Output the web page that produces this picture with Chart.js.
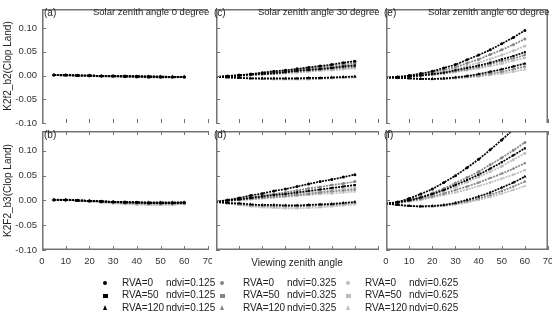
<!DOCTYPE html>
<html><head><meta charset="utf-8">
<script src="https://cdn.jsdelivr.net/npm/chart.js@4/dist/chart.umd.min.js"></script>
<style>
body{margin:0;width:559px;height:314px;background:#fff;position:relative;overflow:hidden;font-family:"Liberation Sans",Arial,sans-serif;color:#222}
.p{position:absolute}
.t{position:absolute;white-space:nowrap;line-height:1;color:#222}
.mk{position:absolute;display:block}
</style></head><body>
<script>
// ---------- data ----------
const vzaAB = [5,10,15,20,25,30,35,40,45,50,55,60];
const vzaCF = [0,5,10,15,20,25,30,35,40,45,50,55,60];
const xTickVals = [0,10,20,30,40,50,60,70];
const yTickVals = [-0.10,-0.05,0.00,0.05,0.10];

// panel (a) SZA 0, b2
const A_R0_N125   = [0.001,0.001,0.000,0.000,-0.001,-0.001,-0.002,-0.002,-0.003,-0.003,-0.003,-0.003];
const A_R50_N125  = [0.001,0.001,0.000,0.000,-0.001,-0.001,-0.002,-0.002,-0.002,-0.003,-0.003,-0.003];
const A_R120_N125 = [0.001,0.001,0.000,0.000,-0.001,-0.001,-0.001,-0.002,-0.002,-0.002,-0.003,-0.003];
const A_R0_N325   = [0.001,0.000,0.000,-0.001,-0.001,-0.002,-0.002,-0.003,-0.003,-0.003,-0.003,-0.003];
const A_R50_N325  = [0.001,0.000,0.000,-0.001,-0.001,-0.002,-0.002,-0.003,-0.003,-0.004,-0.003,-0.003];
const A_R120_N325 = [0.001,0.000,0.000,-0.001,-0.001,-0.002,-0.002,-0.002,-0.003,-0.003,-0.003,-0.003];
const A_R0_N625   = [0.001,0.000,0.000,-0.001,-0.002,-0.002,-0.003,-0.003,-0.004,-0.004,-0.004,-0.003];
const A_R50_N625  = [0.001,0.000,-0.001,-0.001,-0.002,-0.003,-0.003,-0.004,-0.004,-0.004,-0.004,-0.004];
const A_R120_N625 = [0.001,0.000,-0.001,-0.001,-0.002,-0.002,-0.003,-0.003,-0.004,-0.004,-0.004,-0.003];

// panel (b) SZA 0, b3
const B_R0_N125   = [0.001,0.001,0.000,-0.001,-0.002,-0.003,-0.004,-0.004,-0.005,-0.005,-0.005,-0.004];
const B_R50_N125  = [0.001,0.001,0.000,-0.001,-0.002,-0.003,-0.004,-0.004,-0.005,-0.005,-0.005,-0.005];
const B_R120_N125 = [0.001,0.001,0.000,-0.001,-0.002,-0.003,-0.003,-0.004,-0.004,-0.004,-0.004,-0.004];
const B_R0_N325   = [0.001,0.001,0.000,-0.001,-0.002,-0.003,-0.004,-0.005,-0.006,-0.006,-0.006,-0.005];
const B_R50_N325  = [0.001,0.001,0.000,-0.001,-0.002,-0.004,-0.005,-0.005,-0.006,-0.006,-0.006,-0.006];
const B_R120_N325 = [0.001,0.001,0.000,-0.001,-0.002,-0.003,-0.004,-0.005,-0.005,-0.005,-0.005,-0.005];
const B_R0_N625   = [0.002,0.001,0.000,-0.002,-0.004,-0.005,-0.007,-0.008,-0.008,-0.008,-0.008,-0.007];
const B_R50_N625  = [0.002,0.001,-0.001,-0.002,-0.004,-0.006,-0.007,-0.008,-0.009,-0.009,-0.008,-0.007];
const B_R120_N625 = [0.002,0.001,0.000,-0.002,-0.003,-0.005,-0.006,-0.007,-0.008,-0.008,-0.008,-0.007];

// panel (c) SZA 30, b2
const C_R0_N125   = [-0.003,-0.001,0.001,0.003,0.006,0.009,0.011,0.014,0.017,0.020,0.023,0.027,0.030];
const C_R50_N125  = [-0.003,-0.002,0.000,0.002,0.003,0.005,0.007,0.010,0.012,0.014,0.016,0.019,0.021];
const C_R120_N125 = [-0.003,-0.004,-0.005,-0.006,-0.006,-0.006,-0.006,-0.006,-0.005,-0.005,-0.004,-0.003,-0.002];
const C_R0_N325   = [-0.003,-0.002,0.000,0.002,0.005,0.007,0.010,0.012,0.015,0.018,0.020,0.023,0.026];
const C_R50_N325  = [-0.003,-0.002,-0.001,0.001,0.003,0.004,0.006,0.008,0.010,0.012,0.014,0.016,0.018];
const C_R120_N325 = [-0.003,-0.004,-0.005,-0.006,-0.007,-0.007,-0.007,-0.007,-0.007,-0.006,-0.005,-0.004,-0.003];
const C_R0_N625   = [-0.003,-0.002,0.000,0.002,0.004,0.006,0.008,0.011,0.013,0.015,0.018,0.020,0.023];
const C_R50_N625  = [-0.003,-0.002,-0.001,0.000,0.002,0.003,0.005,0.006,0.008,0.010,0.011,0.013,0.015];
const C_R120_N625 = [-0.003,-0.004,-0.005,-0.006,-0.007,-0.008,-0.008,-0.008,-0.008,-0.007,-0.006,-0.005,-0.004];

// panel (d) SZA 30, b3
const D_R0_N125   = [-0.003,0.001,0.005,0.010,0.014,0.019,0.023,0.028,0.033,0.038,0.042,0.047,0.052];
const D_R50_N125  = [-0.003,0.000,0.002,0.005,0.008,0.011,0.013,0.016,0.019,0.022,0.025,0.028,0.031];
const D_R120_N125 = [-0.003,-0.005,-0.006,-0.008,-0.009,-0.009,-0.010,-0.010,-0.009,-0.008,-0.007,-0.005,-0.003];
const D_R0_N325   = [-0.003,0.000,0.003,0.006,0.010,0.013,0.016,0.020,0.024,0.027,0.031,0.034,0.038];
const D_R50_N325  = [-0.003,-0.001,0.001,0.003,0.005,0.007,0.009,0.011,0.013,0.016,0.018,0.020,0.022];
const D_R120_N325 = [-0.003,-0.006,-0.008,-0.010,-0.011,-0.012,-0.012,-0.012,-0.011,-0.010,-0.009,-0.007,-0.005];
const D_R0_N625   = [-0.003,-0.001,0.002,0.004,0.006,0.009,0.011,0.013,0.016,0.018,0.021,0.023,0.026];
const D_R50_N625  = [-0.003,-0.001,0.001,0.002,0.004,0.006,0.007,0.009,0.011,0.013,0.014,0.016,0.018];
const D_R120_N625 = [-0.003,-0.006,-0.009,-0.012,-0.014,-0.015,-0.016,-0.016,-0.015,-0.014,-0.012,-0.010,-0.008];

// panel (e) SZA 60, b2
const E_R0_N125   = [-0.004,-0.003,0.000,0.004,0.009,0.016,0.023,0.033,0.043,0.054,0.067,0.080,0.095];
const E_R50_N125  = [-0.004,-0.004,-0.002,0.000,0.003,0.006,0.011,0.016,0.021,0.027,0.034,0.041,0.049];
const E_R120_N125 = [-0.004,-0.005,-0.006,-0.007,-0.007,-0.006,-0.004,-0.001,0.003,0.008,0.013,0.019,0.025];
const E_R0_N325   = [-0.004,-0.003,-0.001,0.002,0.007,0.012,0.018,0.026,0.034,0.044,0.054,0.065,0.077];
const E_R50_N325  = [-0.004,-0.004,-0.002,0.000,0.002,0.005,0.009,0.013,0.018,0.024,0.030,0.036,0.043];
const E_R120_N325 = [-0.004,-0.005,-0.006,-0.007,-0.007,-0.007,-0.005,-0.003,0.000,0.004,0.008,0.013,0.019];
const E_R0_N625   = [-0.004,-0.003,-0.002,0.001,0.005,0.009,0.014,0.020,0.027,0.035,0.043,0.052,0.062];
const E_R50_N625  = [-0.004,-0.004,-0.003,-0.001,0.001,0.004,0.007,0.011,0.015,0.020,0.025,0.031,0.037];
const E_R120_N625 = [-0.004,-0.005,-0.006,-0.007,-0.008,-0.007,-0.006,-0.004,-0.002,0.001,0.004,0.008,0.013];

// panel (f) SZA 60, b3
const F_R0_N125   = [-0.006,-0.003,0.004,0.013,0.023,0.036,0.050,0.066,0.083,0.102,0.122,0.143,0.165];
const F_R50_N125  = [-0.006,-0.004,0.000,0.006,0.013,0.021,0.031,0.041,0.052,0.064,0.077,0.091,0.105];
const F_R120_N125 = [-0.006,-0.009,-0.011,-0.012,-0.011,-0.009,-0.005,0.001,0.008,0.016,0.026,0.036,0.048];
const F_R0_N325   = [-0.006,-0.004,0.001,0.007,0.015,0.024,0.035,0.046,0.058,0.072,0.086,0.101,0.117];
const F_R50_N325  = [-0.006,-0.005,-0.001,0.003,0.008,0.014,0.021,0.028,0.036,0.045,0.054,0.064,0.075];
const F_R120_N325 = [-0.006,-0.009,-0.011,-0.012,-0.012,-0.010,-0.007,-0.002,0.004,0.011,0.019,0.028,0.038];
const F_R0_N625   = [-0.006,-0.004,0.000,0.005,0.011,0.019,0.027,0.037,0.047,0.058,0.069,0.082,0.095];
const F_R50_N625  = [-0.006,-0.005,-0.002,0.001,0.006,0.011,0.016,0.022,0.029,0.036,0.044,0.052,0.061];
const F_R120_N625 = [-0.006,-0.009,-0.011,-0.012,-0.012,-0.011,-0.008,-0.004,0.001,0.007,0.014,0.021,0.029];

const seriesRVA  = ['RVA=0','RVA=50','RVA=120'];
const seriesNDVI = ['ndvi=0.125','ndvi=0.325','ndvi=0.625'];
const panelLetters = ['(a)','(b)','(c)','(d)','(e)','(f)'];
const panelTitles = ['Solar zenith angle 0 degree','Solar zenith angle 30 degree','Solar zenith angle 60 degree'];
const yTitles = ['K2f2_b2(Clop Land)','K2F2_b3(Clop Land)'];
const xTitle = 'Viewing zenith angle';

// ---------- styles ----------
const ndviColors = ['#000000','#858585','#bdbdbd'];
const rvaShapes = ['circle','rect','triangle'];

const panels = [
  {col:0,row:0,x:vzaAB,s:[[A_R0_N125,A_R50_N125,A_R120_N125],[A_R0_N325,A_R50_N325,A_R120_N325],[A_R0_N625,A_R50_N625,A_R120_N625]]},
  {col:0,row:1,x:vzaAB,s:[[B_R0_N125,B_R50_N125,B_R120_N125],[B_R0_N325,B_R50_N325,B_R120_N325],[B_R0_N625,B_R50_N625,B_R120_N625]]},
  {col:1,row:0,x:vzaCF,s:[[C_R0_N125,C_R50_N125,C_R120_N125],[C_R0_N325,C_R50_N325,C_R120_N325],[C_R0_N625,C_R50_N625,C_R120_N625]]},
  {col:1,row:1,x:vzaCF,s:[[D_R0_N125,D_R50_N125,D_R120_N125],[D_R0_N325,D_R50_N325,D_R120_N325],[D_R0_N625,D_R50_N625,D_R120_N625]]},
  {col:2,row:0,x:vzaCF,s:[[E_R0_N125,E_R50_N125,E_R120_N125],[E_R0_N325,E_R50_N325,E_R120_N325],[E_R0_N625,E_R50_N625,E_R120_N625]]},
  {col:2,row:1,x:vzaCF,s:[[F_R0_N125,F_R50_N125,F_R120_N125],[F_R0_N325,F_R50_N325,F_R120_N325],[F_R0_N625,F_R50_N625,F_R120_N625]]}
];

const colLeft = [42,212,382];
const PW = 170;
const rowTop = [5,127];
const rowH = [122,123];

Chart.defaults.font.family = '"Liberation Sans", Arial, sans-serif';
Chart.defaults.color = '#222';

function drawFrame(chart, opt){
  const a = chart.chartArea, ctx = chart.ctx;
  const xs = chart.scales.x, ys = chart.scales.y;
  ctx.save();
  ctx.setLineDash([]);
  ctx.globalAlpha = 1;
  ctx.fillStyle = '#737373';
  const L = Math.round(a.left), R = Math.round(a.right), T = Math.round(a.top), B = Math.round(a.bottom);
  ctx.fillRect(L, T, 1.5, B-T);
  if (opt.right) ctx.fillRect(R-1.5, T, 1.5, B-T);
  ctx.fillRect(L, T, R-L, 1.5);
  if (opt.bottom) ctx.fillRect(L, B-1.5, R-L, 1.5);
  yTickVals.forEach(v=>{ const y = Math.round(ys.getPixelForValue(v)); ctx.fillRect(L, y, 4, 1); });
  xTickVals.forEach(v=>{ const x = Math.round(xs.getPixelForValue(v));
    ctx.fillRect(x, B-4, 1, 4);
    if (opt.topTicks) ctx.fillRect(x, T, 1, 4); });
  ctx.restore();
}
function zeroPad(s){ s.paddingLeft=0; s.paddingRight=0; s.paddingTop=0; s.paddingBottom=0; }

panels.forEach((p,pi)=>{
  const yW = p.col===0 ? 42 : 0;
  const xH = p.row===1 ? 19 : 0;
  const W = PW + yW, H = rowH[p.row] + xH;
  const div = document.createElement('div');
  div.className = 'p';
  div.style.left = (colLeft[p.col]-yW)+'px';
  div.style.top = rowTop[p.row]+'px';
  div.style.width = W+'px'; div.style.height = H+'px';
  const cv = document.createElement('canvas');
  cv.width = W; cv.height = H;
  cv.style.width = W+'px'; cv.style.height = H+'px';
  div.appendChild(cv);
  document.body.appendChild(div);

  const datasets = [];
  for (let n=0;n<3;n++){
    for (let r=0;r<3;r++){
      const vals = p.s[n][r];
      datasets.push({
        label: seriesRVA[r]+' '+seriesNDVI[n],
        data: vals.map((v,i)=>({x:p.x[i], y:v})),
        borderColor: ndviColors[n],
        backgroundColor: ndviColors[n],
        pointBackgroundColor: ndviColors[n],
        pointStyle: rvaShapes[r],
        pointRadius: r===2 ? 1.9 : 1.5,
        pointBorderWidth: 0,
        borderWidth: 1.7,
        borderDash: [2,1],
        cubicInterpolationMode: 'monotone',
        fill: false
      });
    }
  }
  const fopt = {right:p.col===2, bottom:p.row===1, topTicks:p.row===1};
  new Chart(cv, {
    type:'line',
    data:{datasets},
    plugins:[{ id:'panelframe', afterDraw(chart){ drawFrame(chart, fopt); } }],
    options:{
      responsive:false, animation:false, devicePixelRatio:1,
      layout:{padding:0},
      plugins:{legend:{display:false}, tooltip:{enabled:false}},
      scales:{
        x:{type:'linear', min:0, max:70, display:p.row===1,
          afterBuildTicks(s){ s.ticks = xTickVals.map(v=>({value:v})); },
          afterFit(s){ s.height = xH; zeroPad(s); },
          grid:{display:false, drawTicks:false}, border:{display:false},
          ticks:{display:p.col!==1, padding:6, font:{size:9.5}, color:'#333', maxRotation:0, autoSkip:false},
          title:{display:p.col===1, text:xTitle, font:{size:10}, color:'#222', padding:{top:6,bottom:0}}},
        y:{type:'linear', min:-0.10, max:0.14, display:p.col===0,
          afterBuildTicks(s){ s.ticks = yTickVals.map(v=>({value:v})); },
          afterFit(s){ s.width = yW; zeroPad(s); },
          grid:{display:false, drawTicks:false}, border:{display:false},
          ticks:{padding:5, font:{size:9.5}, color:'#333', callback:v=>Number(v).toFixed(2)},
          title:{display:true, text:yTitles[p.row], font:{size:10}, color:'#222', padding:{top:2,bottom:0}}}
      }
    }
  });

  const Lb = document.createElement('div'); Lb.className='t';
  Lb.style.fontSize='10px'; Lb.textContent = panelLetters[pi];
  Lb.style.left = (colLeft[p.col]+2)+'px'; Lb.style.top = (rowTop[p.row]+3)+'px';
  document.body.appendChild(Lb);
  if (p.row===0){
    const T = document.createElement('div'); T.className='t';
    T.style.fontSize='9.5px'; T.textContent = panelTitles[p.col];
    T.style.left = [93,258,428][p.col]+'px'; T.style.top = '7px';
    document.body.appendChild(T);
  }
});

// legend (3x3)
const legColMarker = [105,222,348];
const legColText = [122,243,365];
const legRowY = [283,295.5,308];
for (let n=0;n<3;n++){
  for (let r=0;r<3;r++){
    const cy = legRowY[r];
    const mk = document.createElement('div'); mk.className='mk';
    const c = ndviColors[n];
    if (r===0){ mk.style.width='4px'; mk.style.height='4px'; mk.style.borderRadius='50%'; mk.style.background=c; mk.style.left=(legColMarker[n]-2)+'px'; mk.style.top=(cy-2)+'px'; }
    else if (r===1){ mk.style.width='5px'; mk.style.height='4px'; mk.style.background=c; mk.style.left=(legColMarker[n]-2.5)+'px'; mk.style.top=(cy-2)+'px'; }
    else { mk.style.width='0'; mk.style.height='0'; mk.style.borderLeft='2.5px solid transparent'; mk.style.borderRight='2.5px solid transparent'; mk.style.borderBottom='5px solid '+c; mk.style.left=(legColMarker[n]-2.5)+'px'; mk.style.top=(cy-3)+'px'; }
    document.body.appendChild(mk);
    const t1 = document.createElement('div'); t1.className='t'; t1.style.fontSize='10px';
    t1.textContent = seriesRVA[r]; t1.style.left = legColText[n]+'px'; t1.style.top=(cy-5.5)+'px';
    document.body.appendChild(t1);
    const t2 = document.createElement('div'); t2.className='t'; t2.style.fontSize='10px';
    t2.textContent = seriesNDVI[n]; t2.style.left = (legColText[n]+44)+'px'; t2.style.top=(cy-5.5)+'px';
    document.body.appendChild(t2);
  }
}
</script>
</body></html>
